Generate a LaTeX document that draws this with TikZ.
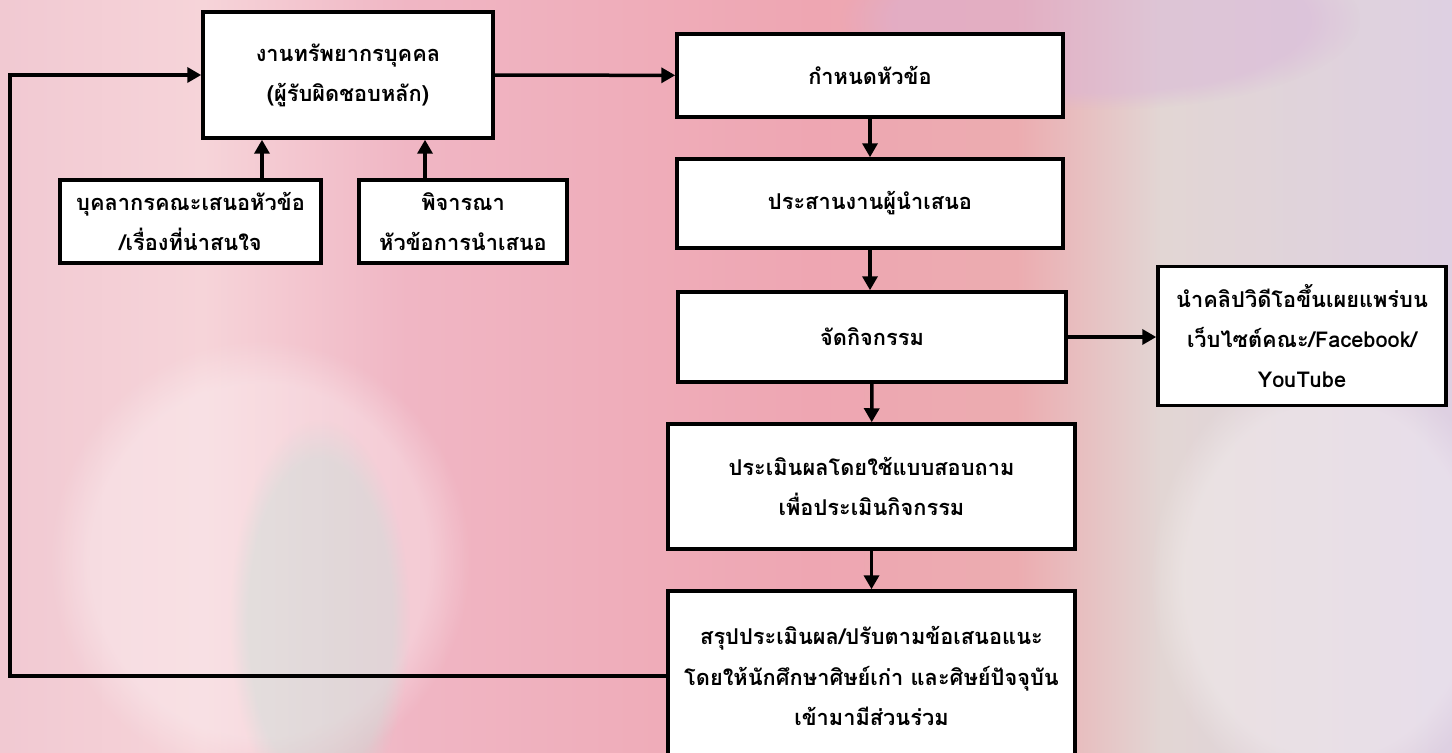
\documentclass[tikz,border=0pt]{standalone}
\usepackage{fontspec}
\newfontfamily\thaifont[Script=Thai]{Loma}
\usetikzlibrary{arrows.meta,fadings}

\definecolor{roze1}{RGB}{241,201,210}
\definecolor{roze2}{RGB}{246,212,217}
\definecolor{roze3}{RGB}{240,182,196}
\definecolor{roze4}{RGB}{238,166,178}
\definecolor{zalm}{RGB}{236,172,176}
\definecolor{grijs1}{RGB}{226,214,212}
\definecolor{lila}{RGB}{222,208,226}
\definecolor{mint}{RGB}{190,225,215}

\pgfdeclarehorizontalshading{achtergrond}{100bp}{
  color(0bp)=(roze1); color(25bp)=(roze1); color(32bp)=(roze2);
  color(39bp)=(roze3); color(53bp)=(roze4); color(60bp)=(zalm);
  color(65bp)=(grijs1); color(75bp)=(lila); color(100bp)=(lila)}

\tikzset{
  blok/.style={draw=black, line width=0.07cm, fill=white, align=center,
    font=\thaifont\bfseries\fontsize{12.4}{22.8}\selectfont, inner sep=2pt},
  pijl/.style={line width=0.07cm, -{Triangle[length=0.28cm,width=0.3cm]}},
  vlek/.style={path fading=circle with fuzzy edge 20 percent}
}

\begin{document}
\begin{tikzpicture}[x=0.02cm,y=-0.02cm]
\useasboundingbox (0,0) rectangle (1452,753);
\shade[shading=achtergrond] (0,0) rectangle (1452,753);
\fill[white, opacity=0.3, vlek] (260,560) ellipse (210 and 220);
\fill[mint, opacity=0.35, vlek] (320,620) ellipse (90 and 200);
\fill[violet!30, opacity=0.45, vlek] (1100,20) ellipse (260 and 90);
\fill[white, opacity=0.3, vlek] (1330,580) ellipse (180 and 220);

\node[blok, minimum width=290*0.02cm, minimum height=126*0.02cm] (A) at (348,75)
  {งานทรัพยากรบุคคล\\(ผู้รับผิดชอบหลัก)};
\node[blok, minimum width=261*0.02cm, minimum height=83*0.02cm] (B) at (190.5,221.5)
  {บุคลากรคณะเสนอหัวข้อ\\/เรื่องที่น่าสนใจ};
\node[blok, minimum width=208*0.02cm, minimum height=83*0.02cm] (C) at (463,221.5)
  {พิจารณา\\หัวข้อการนำเสนอ};
\node[blok, minimum width=386*0.02cm, minimum height=83*0.02cm] (D) at (870,75.5)
  {กำหนดหัวข้อ};
\node[blok, minimum width=386*0.02cm, minimum height=89*0.02cm] (E) at (870,203.5)
  {ประสานงานผู้นำเสนอ};
\node[blok, minimum width=388*0.02cm, minimum height=90*0.02cm] (F) at (872,337)
  {จัดกิจกรรม};
\node[blok, minimum width=288*0.02cm, minimum height=139*0.02cm] (G) at (1302,336)
  {นำคลิปวิดีโอขึ้นเผยแพร่บน\\เว็บไซต์คณะ/Facebook/\\YouTube};
\node[blok, minimum width=407*0.02cm, minimum height=125*0.02cm] (H) at (871.5,486.5)
  {ประเมินผลโดยใช้แบบสอบถาม\\เพื่อประเมินกิจกรรม};
\node[blok, minimum width=407*0.02cm, minimum height=170*0.02cm] (I) at (871.5,676)
  {สรุปประเมินผล/ปรับตามข้อเสนอแนะ\\โดยให้นักศึกษาศิษย์เก่า และศิษย์ปัจจุบัน\\เข้ามามีส่วนร่วม};

\coordinate (hoek) at (10,0);
\draw[pijl] (A) -- (D);
\draw[pijl] ([xshift=1.43cm]B.north) -- ([xshift=1.43cm]B.north |- A.south);
\draw[pijl] ([xshift=-0.76cm]C.north) -- ([xshift=-0.76cm]C.north |- A.south);
\draw[pijl] (D) -- (E);
\draw[pijl] (E.south) -- (E.south |- F.north);
\draw[pijl] (F) -- (H);
\draw[pijl] (H) -- (I);
\draw[pijl] (F) -- (F -| G.west);
\draw[pijl] (I.west) -- (I.west -| hoek) |- (A.west);
\end{tikzpicture}
\end{document}
